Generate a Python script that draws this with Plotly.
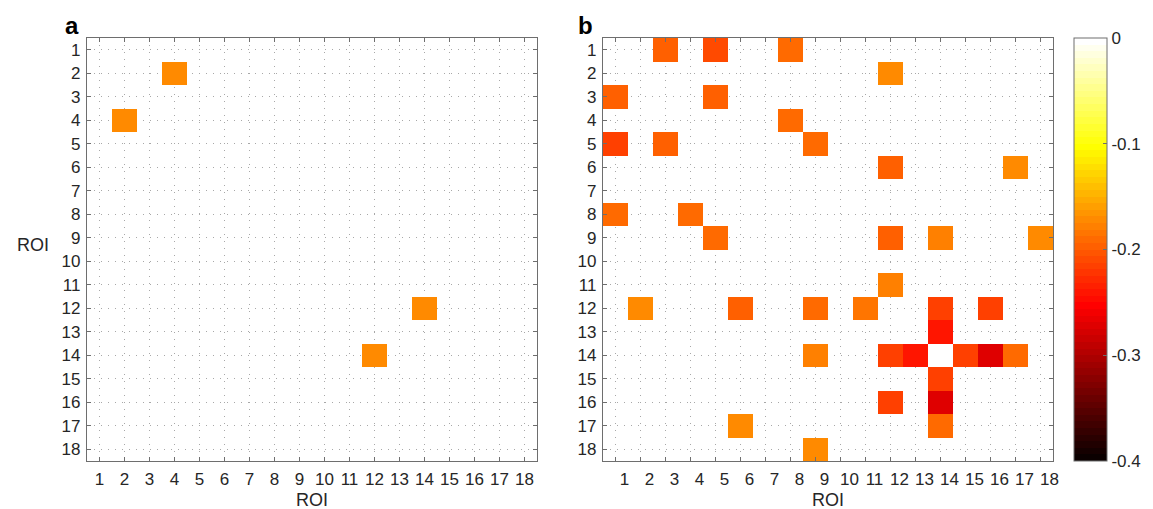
import numpy as np
import plotly.graph_objects as go

# ---------------- data ----------------
roi = list(range(1, 19))
roi_labels = [str(i) for i in roi]

# panel a: (row, col, value)
a_rows = [2, 4, 12, 14]
a_cols = [4, 2, 14, 12]
a_vals = [-0.175, -0.175, -0.175, -0.175]

# panel b: (row, col, value)
b_rows = [1, 1, 1, 2, 3, 3, 4, 5, 5, 5, 6, 6, 8, 8, 9, 9, 9, 9, 11,
          12, 12, 12, 12, 12, 12, 13, 14, 14, 14, 14, 14, 14, 14, 15, 16, 16, 17, 17, 18]
b_cols = [3, 5, 8, 12, 1, 5, 8, 1, 3, 9, 12, 17, 1, 4, 5, 12, 14, 18, 12,
          2, 6, 9, 11, 14, 16, 14, 9, 12, 13, 14, 15, 16, 17, 14, 12, 14, 6, 14, 9]
b_vals = [-0.194, -0.212, -0.188, -0.170, -0.200, -0.194, -0.190, -0.214, -0.194, -0.190,
          -0.200, -0.173, -0.188, -0.190, -0.190, -0.197, -0.176, -0.173, -0.180,
          -0.170, -0.197, -0.188, -0.182, -0.216, -0.216, -0.242, -0.176, -0.218, -0.242,
          0.0, -0.218, -0.274, -0.188, -0.216, -0.216, -0.270, -0.170, -0.188, -0.170]

cbar_vals = [0, -0.1, -0.2, -0.3, -0.4]
cbar_text = ["0", "-0.1", "-0.2", "-0.3", "-0.4"]


def to_matrix(rows, cols, vals):
    z = [[None] * len(roi) for _ in roi]
    for r, c, v in zip(rows, cols, vals):
        z[r - 1][c - 1] = v
    return z


# MATLAB "hot" colormap, 64 discrete levels
n = 64
n1, n2 = 24, 24
n3 = n - n1 - n2
r = np.concatenate([np.arange(1, n1 + 1) / n1, np.ones(n - n1)])
g = np.concatenate([np.zeros(n1), np.arange(1, n2 + 1) / n2, np.ones(n3)])
b = np.concatenate([np.zeros(n1 + n2), np.arange(1, n3 + 1) / n3])
hot = []
for i in range(n):
    col = "rgb(%d,%d,%d)" % (round(r[i] * 255), round(g[i] * 255), round(b[i] * 255))
    hot.append([i / n, col])
    hot.append([(i + 1) / n, col])

# ---------------- layout geometry (page pixels; page body has 8px margin) ----------------
W, H = 1153, 509
OFF = 8
PL, PR, PT, PB = 87, 1053, 38, 461   # plot area in page pixels
L = PL - OFF
T = PT - OFF
R = W - (PR - OFF)
B = H - (PB - OFF)
pw = PR - PL
ph = PB - PT


def px_x(x):
    return (x - PL) / pw


def px_y(y):
    return (PB - y) / ph


FONT = "Liberation Sans, Arial, sans-serif"
TXT = "#262626"
AX = "#6e6e6e"
TICK_SIZE = 17

fig = go.Figure()
fig.add_trace(go.Heatmap(z=to_matrix(a_rows, a_cols, a_vals), x=roi, y=roi,
                         coloraxis="coloraxis", xaxis="x", yaxis="y",
                         hoverongaps=False))
fig.add_trace(go.Heatmap(z=to_matrix(b_rows, b_cols, b_vals), x=roi, y=roi,
                         coloraxis="coloraxis", xaxis="x2", yaxis="y2",
                         hoverongaps=False))

axis_common = dict(
    range=[0.5, 18.5], tickmode="array", tickvals=roi, ticktext=roi_labels,
    ticks="inside", ticklen=4, tickcolor=AX, tickwidth=1,
    showline=True, linecolor=AX, linewidth=1.3, mirror="ticks",
    showgrid=True, gridcolor="#a8a8a8", griddash="1px,6px", gridwidth=1,
    zeroline=False, tickfont=dict(family=FONT, size=TICK_SIZE, color=TXT),
    fixedrange=True,
)

xa = dict(axis_common, domain=[0, px_x(537)], anchor="y", ticklabelstandoff=2)
xb = dict(axis_common, domain=[px_x(603), 1], anchor="y2",
          ticklabelstandoff=2, ticklabelshift=9)
ya = dict(axis_common, range=[18.5, 0.5], domain=[0, 1], anchor="x", ticklabelstandoff=2)
yb = dict(axis_common, range=[18.5, 0.5], domain=[0, 1], anchor="x2", ticklabelstandoff=2)

fig.update_layout(
    width=W, height=H,
    margin=dict(l=L, r=R, t=T, b=B, pad=0),
    paper_bgcolor="white", plot_bgcolor="white",
    font=dict(family=FONT, size=TICK_SIZE, color=TXT),
    xaxis=xa, yaxis=ya, xaxis2=xb, yaxis2=yb,
    coloraxis=dict(
        cmin=-0.4, cmax=0, colorscale=hot,
        colorbar=dict(
            x=px_x(1074), xanchor="left", xpad=0, ypad=0,
            y=0.5, yanchor="middle", len=1, lenmode="fraction",
            thickness=33, outlinecolor=AX, outlinewidth=1,
            tickmode="array", tickvals=cbar_vals, ticktext=cbar_text,
            ticks="inside", ticklen=4, tickcolor=AX,
            tickfont=dict(family=FONT, size=TICK_SIZE, color=TXT),
        ),
    ),
    showlegend=False,
)

annots = [
    dict(text="<b>a</b>", x=px_x(72), y=px_y(25), size=24, color="#000000"),
    dict(text="<b>b</b>", x=px_x(585), y=px_y(25), size=24, color="#000000"),
    dict(text="ROI", x=px_x(33), y=px_y(245), size=18, color=TXT),
    dict(text="ROI", x=px_x(312), y=px_y(500), size=18, color=TXT),
    dict(text="ROI", x=px_x(828), y=px_y(500), size=18, color=TXT),
]
for an in annots:
    fig.add_annotation(xref="paper", yref="paper", showarrow=False,
                       xanchor="center", yanchor="middle",
                       x=an["x"], y=an["y"], text=an["text"],
                       font=dict(family=FONT, color=an["color"], size=an["size"]))

fig.write_html("out.html")
